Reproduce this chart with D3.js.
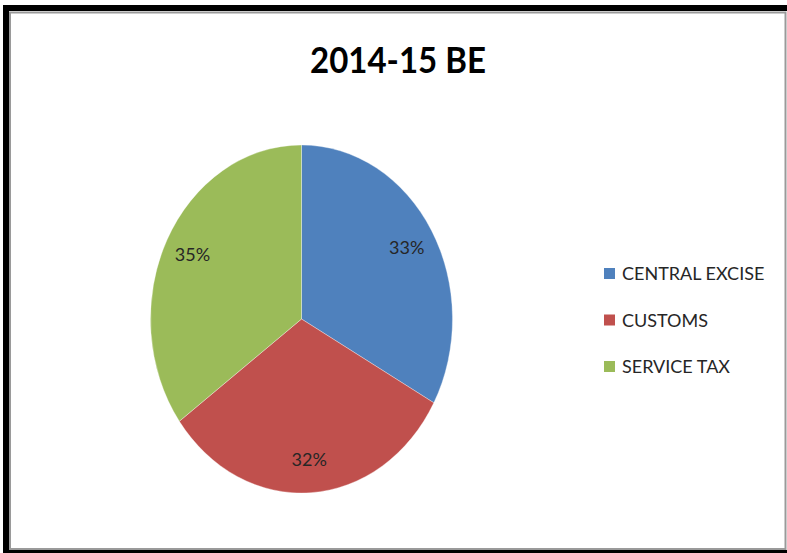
<!DOCTYPE html>
<html>
<head>
<meta charset="utf-8">
<script src="https://cdn.jsdelivr.net/npm/d3@7"></script>
<style>
  html, body { margin: 0; padding: 0; background: #fff; }
  svg { display: block; }
</style>
</head>
<body>
<svg id="chart" width="787" height="553"></svg>
<script>
const title = "2014-15 BE";
const categories = ["CENTRAL EXCISE", "CUSTOMS", "SERVICE TAX"];
const values = [33, 32, 35];
const labels = ["33%", "32%", "35%"];
const colors = ["#4F81BD", "#C0504D", "#9BBB59"];

const svg = d3.select("#chart");

// frame
svg.append("rect").attr("x", 0).attr("y", 0).attr("width", 787).attr("height", 553).attr("fill", "#fff");
svg.append("rect").attr("x", 6).attr("y", 8).attr("width", 784).attr("height", 545)
  .attr("fill", "none").attr("stroke", "#000").attr("stroke-width", 6);
svg.append("rect").attr("x", 10).attr("y", 12.5).attr("width", 775.5).attr("height", 536.5)
  .attr("fill", "none").attr("stroke", "#9a9a9a").attr("stroke-width", 2);

// title
svg.append("text").attr("x", 398).attr("y", 73)
  .attr("text-anchor", "middle")
  .attr("font-family", "Lato, 'Open Sans', sans-serif")
  .attr("font-weight", "bold").attr("font-size", 36)
  .attr("textLength", 176).attr("lengthAdjust", "spacingAndGlyphs")
  .attr("fill", "#000")
  .text(title);

// pie (elliptical)
const cx = 301.5, cy = 319, rx = 151, ry = 174;
const pie = d3.pie().sort(null).value(d => d);
const arcs = pie(values);
const arc = d3.arc().innerRadius(0).outerRadius(ry);

const g = svg.append("g").attr("transform", `translate(${cx},${cy}) scale(${rx/ry},1)`);
g.selectAll("path").data(arcs).join("path")
  .attr("d", arc)
  .attr("fill", (d, i) => colors[i])
  .attr("stroke", "#fff").attr("stroke-width", 0.6).attr("stroke-opacity", 0.6);

// labels
const labelArc = d3.arc().innerRadius(ry * 0.81).outerRadius(ry * 0.81);
svg.selectAll("text.lbl").data(arcs).join("text")
  .attr("class", "lbl")
  .attr("x", d => cx + labelArc.centroid(d)[0] * rx / ry)
  .attr("y", d => cy + labelArc.centroid(d)[1])
  .attr("dy", "0.36em")
  .attr("text-anchor", "middle")
  .attr("font-family", "Lato, 'Open Sans', sans-serif")
  .attr("font-size", 18)
  .attr("fill", "#262626")
  .text((d, i) => labels[i]);

// legend
const legY = d3.scalePoint().domain(categories).range([274, 367]);
const leg = svg.append("g");
categories.forEach((c, i) => {
  leg.append("rect").attr("x", 604).attr("y", legY(c) - 6).attr("width", 11).attr("height", 11)
    .attr("fill", colors[i]);
  leg.append("text").attr("x", 622).attr("y", legY(c))
    .attr("dy", "0.36em")
    .attr("font-family", "Lato, 'Open Sans', sans-serif")
    .attr("font-size", 18)
    .attr("fill", "#262626")
    .text(c);
});
</script>
</body>
</html>
